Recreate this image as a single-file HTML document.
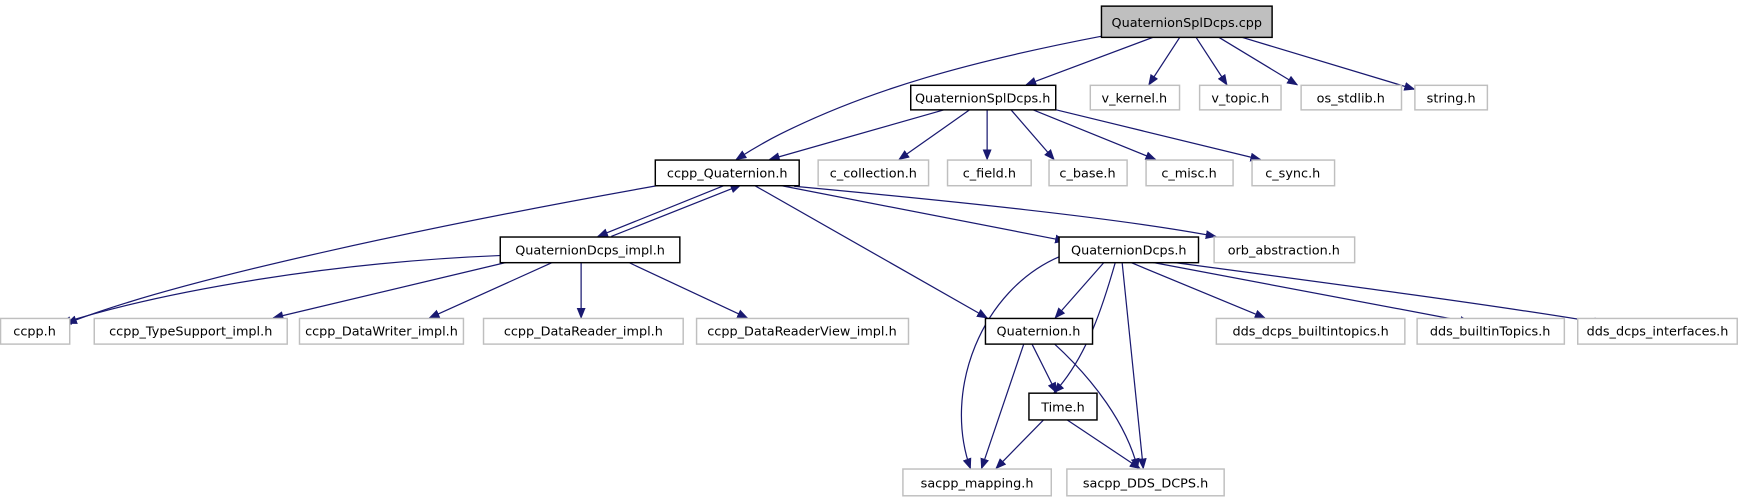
<!DOCTYPE html>
<html><head><meta charset="utf-8"><style>
html,body{margin:0;padding:0;background:#fff;}
svg{display:block;}
text{font-family:"DejaVu Sans","Liberation Sans",sans-serif;font-size:11.5px;fill:#000;text-anchor:middle;}
.b{fill:#fff;stroke:#000;stroke-width:1.3;}
.g{fill:#fff;stroke:#bfbfbf;stroke-width:1.3;}
.e{fill:none;stroke:#191970;stroke-width:1.1;marker-end:url(#a);}
</style></head><body>
<svg width="1749" height="504" viewBox="0 0 1749 504" xmlns="http://www.w3.org/2000/svg">
<defs><marker id="a" markerWidth="10" markerHeight="8" refX="9" refY="4" orient="auto" markerUnits="userSpaceOnUse"><path d="M0,0 L10,4 L0,8 z" fill="#191970"/></marker></defs>
<g transform="scale(1.1154)">
<path class="e" d="M990,32 C870,55 780,80 700,120 C680,130 668,138 660,143"/>
<path class="e" d="M1035,33 L920,76"/>
<path class="e" d="M1058,33 L1030,76"/>
<path class="e" d="M1072,33 L1100,76"/>
<path class="e" d="M1092,33 L1163,76"/>
<path class="e" d="M1112,33 L1268,80"/>
<path class="e" d="M848,98 L690,143"/>
<path class="e" d="M870,98 L806,143"/>
<path class="e" d="M885,98 L885,143"/>
<path class="e" d="M906,98 L945,143"/>
<path class="e" d="M925,98 L1036,143"/>
<path class="e" d="M945,98 L1130,143"/>
<path class="e" d="M650,166 L536,212"/>
<path class="e" d="M548,212 L664,166"/>
<path class="e" d="M592,166 C400,200 160,250 60,290"/>
<path class="e" d="M698,166 L955,216"/>
<path class="e" d="M712,167 C850,180 1000,195 1090,212"/>
<path class="e" d="M676,166 L885,285"/>
<path class="e" d="M450,229 C300,235 150,260 55,290"/>
<path class="e" d="M455,235 L245,285"/>
<path class="e" d="M496,235 L385,285"/>
<path class="e" d="M521,235 L521,285"/>
<path class="e" d="M563,235 L670,285"/>
<path class="e" d="M990,235 L946,285"/>
<path class="e" d="M1000,235 C990,270 975,320 945,352"/>
<path class="e" d="M1006,235 L1025,420"/>
<path class="e" d="M950,230 C880,260 845,350 870,420"/>
<path class="e" d="M1013,235 L1134,285"/>
<path class="e" d="M1032,235 L1318,289"/>
<path class="e" d="M1050,235 C1200,255 1350,275 1438,290"/>
<path class="e" d="M925,308 L947,352"/>
<path class="e" d="M918,308 L880,420"/>
<path class="e" d="M945,308 C980,340 1010,380 1020,420"/>
<path class="e" d="M936,376 L893,420"/>
<path class="e" d="M956,376 L1022,420"/>
<rect x="987.5" y="5.5" width="153" height="28" fill="#bfbfbf" stroke="#000" stroke-width="1.3"/><text x="1064" y="24">QuaternionSplDcps.cpp</text>
<rect class="b" x="816.5" y="76.5" width="130" height="22"/><text x="881" y="92">QuaternionSplDcps.h</text>
<rect class="g" x="977.5" y="76.5" width="80" height="22"/><text x="1017" y="92">v_kernel.h</text>
<rect class="g" x="1075.5" y="76.5" width="73" height="22"/><text x="1112" y="92">v_topic.h</text>
<rect class="g" x="1166.5" y="76.5" width="90" height="22"/><text x="1211" y="92">os_stdlib.h</text>
<rect class="g" x="1268.5" y="76.5" width="65" height="22"/><text x="1301" y="92">string.h</text>
<rect class="b" x="587.5" y="143.5" width="129" height="23"/><text x="652" y="159">ccpp_Quaternion.h</text>
<rect class="g" x="733.5" y="143.5" width="99" height="23"/><text x="783" y="159">c_collection.h</text>
<rect class="g" x="849.5" y="143.5" width="75" height="23"/><text x="887" y="159">c_field.h</text>
<rect class="g" x="940.5" y="143.5" width="70" height="23"/><text x="975" y="159">c_base.h</text>
<rect class="g" x="1027.5" y="143.5" width="78" height="23"/><text x="1066" y="159">c_misc.h</text>
<rect class="g" x="1122.5" y="143.5" width="74" height="23"/><text x="1159" y="159">c_sync.h</text>
<rect class="b" x="448.5" y="212.5" width="161" height="23"/><text x="529" y="228">QuaternionDcps_impl.h</text>
<rect class="b" x="949.5" y="212.5" width="125" height="23"/><text x="1012" y="228">QuaternionDcps.h</text>
<rect class="g" x="1088.5" y="212.5" width="126" height="23"/><text x="1151" y="228">orb_abstraction.h</text>
<rect class="g" x="0.5" y="285.5" width="62" height="23"/><text x="31" y="301">ccpp.h</text>
<rect class="g" x="84.5" y="285.5" width="173" height="23"/><text x="171" y="301">ccpp_TypeSupport_impl.h</text>
<rect class="g" x="268.5" y="285.5" width="147" height="23"/><text x="342" y="301">ccpp_DataWriter_impl.h</text>
<rect class="g" x="433.5" y="285.5" width="179" height="23"/><text x="523" y="301">ccpp_DataReader_impl.h</text>
<rect class="g" x="624.5" y="285.5" width="190" height="23"/><text x="719" y="301">ccpp_DataReaderView_impl.h</text>
<rect class="b" x="883.5" y="285.5" width="96" height="23"/><text x="931" y="301">Quaternion.h</text>
<rect class="g" x="1090.5" y="285.5" width="169" height="23"/><text x="1175" y="301">dds_dcps_builtintopics.h</text>
<rect class="g" x="1270.5" y="285.5" width="132" height="23"/><text x="1336" y="301">dds_builtinTopics.h</text>
<rect class="g" x="1414.5" y="285.5" width="143" height="23"/><text x="1486" y="301">dds_dcps_interfaces.h</text>
<rect class="b" x="922.5" y="352.5" width="61" height="24"/><text x="953" y="369">Time.h</text>
<rect class="g" x="809.5" y="420.5" width="133" height="24"/><text x="876" y="437">sacpp_mapping.h</text>
<rect class="g" x="956.5" y="420.5" width="141" height="24"/><text x="1027" y="437">sacpp_DDS_DCPS.h</text>
</g>
</svg>
</body></html>
